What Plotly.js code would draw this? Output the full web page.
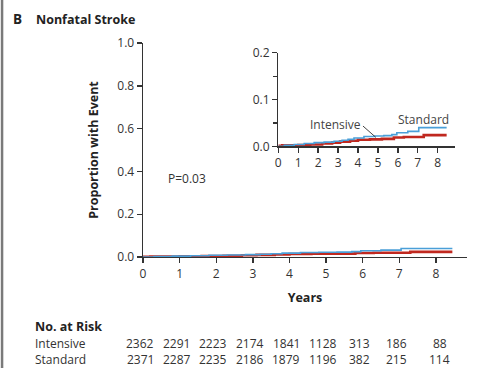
<!DOCTYPE html>
<html>
<head>
<meta charset="utf-8">
<script src="https://cdn.plot.ly/plotly-3.0.1.min.js"></script>
<style>
  html, body { margin: 0; padding: 0; background: #fff; }
  #chart { width: 481px; height: 368px; }
</style>
</head>
<body>
<div id="chart"></div>
<script>
// Cumulative incidence of nonfatal stroke, step curves (years, proportion)
const standardYears = [0, 0.3, 0.8, 1.3, 1.8, 2.3, 2.8, 3.2, 3.5, 3.8, 4.3, 4.8, 5.3, 5.7, 5.95, 6.5, 7.05, 8.45];
const standardProp  = [0, 0.002, 0.004, 0.006, 0.008, 0.009, 0.011, 0.013, 0.015, 0.018, 0.021, 0.022, 0.023, 0.025, 0.029, 0.032, 0.040, 0.040];

const intensiveYears = [0, 0.2, 1.0, 1.6, 2.2, 2.7, 3.1, 3.6, 4.0, 4.6, 5.2, 5.8, 6.3, 7.3, 8.45];
const intensiveProp  = [0.001, 0.002, 0.003, 0.004, 0.006, 0.008, 0.010, 0.012, 0.014, 0.015, 0.016, 0.019, 0.020, 0.024, 0.024];

// Number at risk table
const riskYears     = [0, 1, 2, 3, 4, 5, 6, 7, 8];
const riskIntensive = [2362, 2291, 2223, 2174, 1841, 1128, 313, 186, 88];
const riskStandard  = [2371, 2287, 2235, 2186, 1879, 1196, 382, 215, 114];

const mainTicks  = [0, 0.2, 0.4, 0.6, 0.8, 1.0];
const insetTicks = [0, 0.1, 0.2];
const yearTicks  = [0, 1, 2, 3, 4, 5, 6, 7, 8];

const BLUE = '#4a9fd8';
const RED = '#c0281f';
const INK = '#333333';
const FONT = 'Open Sans, Noto Sans, sans-serif';
const BODY = 12;

function curve(x, y, color, width, xa, ya) {
  return {
    x: x, y: y, type: 'scatter', mode: 'lines',
    line: { shape: 'hv', color: color, width: width },
    xaxis: xa, yaxis: ya, hoverinfo: 'skip', showlegend: false
  };
}

const traces = [
  curve(intensiveYears, intensiveProp, RED, 2.6, 'x', 'y'),
  curve(standardYears, standardProp, BLUE, 1.6, 'x', 'y'),
  curve(intensiveYears, intensiveProp, RED, 2.6, 'x2', 'y2'),
  curve(standardYears, standardProp, BLUE, 1.6, 'x2', 'y2')
];

const axisCommon = {
  showgrid: false, zeroline: false, showline: true,
  linecolor: INK, linewidth: 1.4,
  ticks: 'outside', ticklen: 5, tickwidth: 1.4, tickcolor: INK,
  tickfont: { family: FONT, size: BODY, color: INK },
  fixedrange: true
};

const annotations = [
  { text: '<b>B</b>', xref: 'paper', yref: 'paper', x: -0.406, y: 1.111, xanchor: 'left', yanchor: 'middle',
    showarrow: false, font: { family: FONT, size: 13.5, color: '#222' } },
  { text: '<b>Nonfatal Stroke</b>', xref: 'paper', yref: 'paper', x: -0.337, y: 1.111, xanchor: 'left', yanchor: 'middle',
    showarrow: false, font: { family: FONT, size: 12.5, color: '#222' } },
  { text: 'P=0.03', xref: 'x', yref: 'y', x: 0.62, y: 0.369, xanchor: 'left', yanchor: 'middle',
    showarrow: false, font: { family: FONT, size: BODY, color: INK } },
  { text: 'Intensive', xref: 'x2', yref: 'y2', x: 2.87, y: 0.0476, xanchor: 'center', yanchor: 'middle',
    showarrow: false, font: { family: FONT, size: BODY, color: '#444' } },
  { text: 'Standard', xref: 'x2', yref: 'y2', x: 7.28, y: 0.0577, xanchor: 'center', yanchor: 'middle',
    showarrow: false, font: { family: FONT, size: BODY, color: '#444' } },
  { text: '<b>No. at Risk</b>', xref: 'paper', yref: 'paper', x: -0.339, y: -0.326, xanchor: 'left', yanchor: 'middle',
    showarrow: false, font: { family: FONT, size: 12.5, color: '#222' } },
  { text: 'Intensive', xref: 'paper', yref: 'paper', x: -0.339, y: -0.403, xanchor: 'left', yanchor: 'middle',
    showarrow: false, font: { family: FONT, size: BODY, color: INK } },
  { text: 'Standard', xref: 'paper', yref: 'paper', x: -0.339, y: -0.481, xanchor: 'left', yanchor: 'middle',
    showarrow: false, font: { family: FONT, size: BODY, color: INK } }
];

riskYears.forEach(function (yr, i) {
  const shift = yr === 8 ? 4 : -3;
  annotations.push({ text: String(riskIntensive[i]), xref: 'x', yref: 'paper', x: yr, y: -0.403,
    xshift: shift, xanchor: 'center', yanchor: 'middle', showarrow: false,
    font: { family: FONT, size: BODY, color: INK } });
  annotations.push({ text: String(riskStandard[i]), xref: 'x', yref: 'paper', x: yr, y: -0.481,
    xshift: shift, xanchor: 'center', yanchor: 'middle', showarrow: false,
    font: { family: FONT, size: BODY, color: INK } });
});

const layout = {
  width: 481, height: 368,
  margin: { l: 143, r: 14, t: 43, b: 111, pad: 0 },
  paper_bgcolor: '#ffffff', plot_bgcolor: 'rgba(0,0,0,0)',
  showlegend: false,
  xaxis: Object.assign({}, axisCommon, {
    range: [0, 8.85], tickvals: yearTicks, ticktext: yearTicks.map(String),
    title: { text: '<b>Years</b>', font: { family: FONT, size: 12.5, color: '#222' }, standoff: 12 }
  }),
  yaxis: Object.assign({}, axisCommon, {
    range: [0, 1.0], tickvals: mainTicks, ticktext: mainTicks.map(v => v.toFixed(1)),
    title: { text: '<b>Proportion with Event</b>', font: { family: FONT, size: 12.5, color: '#222' }, standoff: 16 }
  }),
  xaxis2: Object.assign({}, axisCommon, {
    domain: [0.4176, 0.963], anchor: 'y2', range: [0, 8.87],
    tickvals: yearTicks, ticktext: yearTicks.map(String), ticklen: 5
  }),
  yaxis2: Object.assign({}, axisCommon, {
    domain: [0.517, 0.9547], anchor: 'x2', range: [0, 0.2],
    tickvals: insetTicks, ticktext: insetTicks.map(v => v.toFixed(1)),
    minor: { tickvals: [0.05, 0.15], ticks: 'outside', ticklen: 4, tickwidth: 1.2, tickcolor: INK }
  }),
  annotations: annotations,
  shapes: [
    // left panel border
    { type: 'line', xref: 'paper', yref: 'paper', x0: -0.435, x1: -0.435, y0: -0.56, y1: 1.21,
      line: { color: '#7a7a7a', width: 2.5 } },
    // pointer from the inset label to its curve
    { type: 'line', xref: 'x2', yref: 'y2', x0: 4.25, y0: 0.0434, x1: 4.9, y1: 0.019,
      line: { color: '#444', width: 1 } }
  ]
};

Plotly.newPlot('chart', traces, layout, { staticPlot: true, displayModeBar: false });
</script>
</body>
</html>
